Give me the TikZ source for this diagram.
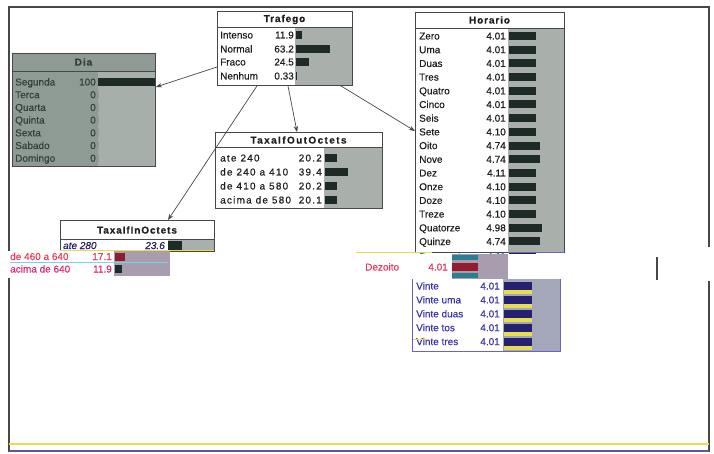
\documentclass[tikz,border=0pt]{standalone}
\usepackage{fontspec}
\setmainfont{Liberation Sans}
\newfontfamily\scanfont{Liberation Sans}[FakeBold=0.35]
\usetikzlibrary{arrows.meta,calc}
\definecolor{barea}{HTML}{A9B0AC}
\definecolor{bdark}{HTML}{1E2A26}
\definecolor{diafill}{HTML}{8D9B94}
\definecolor{diabar}{HTML}{A6AFAA}
\definecolor{diatxt}{HTML}{33403A}
\definecolor{ink}{HTML}{1E1E1E}
\definecolor{boxline}{HTML}{484848}
\definecolor{redtxt}{HTML}{E8385A}
\definecolor{magtxt}{HTML}{E0286E}
\definecolor{bluetxt}{HTML}{3A34A8}
\definecolor{navybar}{HTML}{252070}
\definecolor{streakyel}{HTML}{E6DE50}
\definecolor{cyanstreak}{HTML}{70D8E0}
\definecolor{purparea}{HTML}{A89CAE}
\definecolor{bluearea}{HTML}{A4A6BA}
\definecolor{bluebox}{HTML}{6A60D0}
\definecolor{darkred}{HTML}{8A1F30}
\definecolor{tealbar}{HTML}{2A7F92}
\newcount\nrc
\newcommand\bnrow[9]{%
  \global\advance\nrc by 1
  \node[rowtxt,anchor=base west,#8] (lab\the\nrc) at (#1,#4+3.5) {#5};
  \node[rowtxt,anchor=base east,#8] (val\the\nrc) at (#2,#4+3.5) {#6};
  \fill[#9] (#3,#4-4) rectangle +(#7,8);
}
\tikzset{
  box/.style={draw=boxline,line width=0.9pt,inner sep=0pt,anchor=north west},
  ttl/.style={font=\scanfont\fontsize{10}{11}\selectfont\bfseries\addfontfeatures{LetterSpace=9},text=ink,inner sep=0pt},
  rowtxt/.style={font=\scanfont\fontsize{10}{11}\selectfont,text=ink,inner sep=0pt},
  widetxt/.style={font=\scanfont\fontsize{10}{11}\selectfont\addfontfeatures{LetterSpace=12}},
  conn/.style={-{Stealth[length=6pt,width=4.5pt]},draw=boxline,line width=0.7pt},
  frame/.style={draw=boxline,line width=1.1pt}
}
\begin{document}
\begin{tikzpicture}[x=1pt,y=-1pt]
\useasboundingbox (0,0) rectangle (714,454);
\fill[white] (0,0) rectangle (714,454);
% outer frame
\draw[frame] (9,452) -- (9,7) -- (709,7) -- (709,247);
\draw[frame] (709,281) -- (709,452);
\draw[frame] (657,257) -- (657,280);
\draw[streakyel,line width=1.6pt] (9,444) -- (709,444);
\draw[draw=gray!70!blue,line width=1.2pt] (9,451) -- (709,451);

% ---------- Trafego ----------
\fill[white] (217,11) rectangle (352,85);
\fill[barea] (295,27) rectangle (352,85);
\draw[boxline,line width=0.8pt] (217,27) -- (352,27);
\node[ttl] (ttraf) at (284.5,19.5) {Trafego};
\foreach \lab/\val/\len/\yy in {Intenso/11.9/6.3/35, Normal/63.2/33.5/49, Fraco/24.5/13/62, Nenhum/0.33/0.3/76}{
  \bnrow{220}{294}{296}{\yy}{\lab}{\val}{\len}{}{bdark}
}
\node[box,minimum width=135pt,minimum height=74pt] (traf) at (217,11) {};

% ---------- Dia ----------
\fill[diafill] (12,53) rectangle (155,166);
\fill[diabar] (98,71) rectangle (155,166);
\draw[boxline,line width=0.8pt] (12,71) -- (155,71);
\node[ttl,text=diatxt] (tdia) at (83.5,62) {Dia};
\foreach \lab/\val/\len [count=\i from 0] in {Segunda/100/57, Terca/0/0, Quarta/0/0, Quinta/0/0, Sexta/0/0, Sabado/0/0, Domingo/0/0}{
  \bnrow{15}{96}{98}{82+12.7*\i}{\lab}{\val}{\len}{text=diatxt}{bdark}
}
\node[box,minimum width=143pt,minimum height=113pt] (dia) at (12,53) {};

% ---------- TaxaIfOutOctets ----------
\fill[white] (215,132) rectangle (382,208);
\fill[barea] (324,147) rectangle (382,208);
\draw[boxline,line width=0.8pt] (215,147) -- (382,147);
\node[ttl,font=\scanfont\fontsize{10}{11}\selectfont\bfseries\addfontfeatures{LetterSpace=14}] (ttout) at (298.5,140) {TaxaIfOutOctets};
\foreach \lab/\val/\len/\yy in {ate  240/20.2/11.5/158, de 240 a 410/39.4/22.5/172, de 410 a 580/20.2/11.5/186, acima de 580/20.1/11.5/200}{
  \bnrow{220}{322}{325}{\yy}{\lab}{\val}{\len}{widetxt}{bdark}
}
\node[box,minimum width=167pt,minimum height=76pt] (taxout) at (215,132) {};

% ---------- TaxaIfInOctets ----------
\fill[white] (60,220) rectangle (214,251);
\fill[barea] (168,239) rectangle (214,251);
\draw[boxline,line width=0.8pt] (60,239) -- (214,239);
\node[ttl] (ttin) at (137,230) {TaxaIfInOctets};
\bnrow{63}{165}{168}{245.5}{ate 280}{23.6}{13.5}{text=bluetxt!60!black,font=\scanfont\fontsize{10}{11}\selectfont\itshape}{bdark}
\node[box,minimum width=154pt,minimum height=31pt] (taxin) at (60,220) {};
% shifted (scan-displaced) rows
\fill[white] (8,250.5) rectangle (170,278);
\fill[purparea] (114,251) rectangle (170,276);
\draw[streakyel,line width=1pt] (60,250.5) -- (214,250.5);
\draw[cyanstreak,line width=1pt] (10,262.5) -- (168,262.5);
\bnrow{10}{112}{115}{256.5}{de  460 a 640}{17.1}{9.7}{text=redtxt}{darkred}
\bnrow{10}{112}{115}{269}{acima de 640}{11.9}{6.8}{text=magtxt}{bdark}
\node[inner sep=0pt,minimum width=162pt,minimum height=27pt,anchor=north west] (taxinshift) at (8,251) {};

% ---------- Horario (upper part) ----------
\fill[white] (415,12) rectangle (564,252);
\fill[barea] (508,28) rectangle (564,252);
\draw[boxline,line width=0.8pt] (415,28) -- (564,28);
\node[ttl] (thor) at (489.5,20) {Horario};
\foreach \lab/\val/\len [count=\i from 0] in {Zero/4.01/26.5, Uma/4.01/26.5, Duas/4.01/26.5, Tres/4.01/26.5, Quatro/4.01/26.5, Cinco/4.01/26.5, Seis/4.01/26.5, Sete/4.10/27, Oito/4.74/31.3, Nove/4.74/31.3, Dez/4.11/27.1, Onze/4.10/27, Doze/4.10/27, Treze/4.10/27, Quatorze/4.98/32.9, Quinze/4.74/31.3}{
  \bnrow{419}{506}{509}{36+13.7*\i}{\lab}{\val}{\len}{}{bdark}
}
\begin{scope}
  \clip (412,248) rectangle (564,253.5);
  \bnrow{419}{506}{509}{256.5}{Dezesseis}{4.11}{27.1}{text=bluetxt!70!cyan}{bdark}
\end{scope}
\node[box,minimum width=149pt,minimum height=240pt] (hor) at (415,12) {};
\draw[streakyel,line width=1.2pt] (356,252.5) -- (432,252.5);
\draw[bluebox,line width=1.2pt] (508,252.5) -- (564,252.5);

% ---------- Horario (shifted row) ----------
\fill[white] (360,254) rectangle (508,279);
\fill[purparea] (452,254) rectangle (508,279);
\fill[tealbar] (452,255) rectangle +(26,5);
\fill[darkred!90!red] (452,263) rectangle +(26,8);
\fill[tealbar] (452,273) rectangle +(26,5);
\bnrow{365}{448}{452}{267}{Dezoito}{4.01}{0}{text=redtxt}{darkred}
\node[inner sep=0pt,minimum width=148pt,minimum height=25pt,anchor=north west] (horshift) at (360,254) {};

% ---------- Horario (lower part) ----------
\fill[white] (412,279) rectangle (560,351);
\fill[bluearea] (503,279) rectangle (560,351);
\foreach \lab [count=\i from 0] in {Vinte, Vinte uma, Vinte duas, Vinte tos, Vinte tres}{
  \fill[streakyel] (504,286+13.9*\i+4) rectangle +(28,4);
  \bnrow{416}{500}{504}{286+13.9*\i}{\lab}{4.01}{28}{text=bluetxt}{navybar}
}
\draw[streakyel,line width=1pt] (412,339) -- (428,339);
\draw[bluebox,line width=0.9pt] (412,279) -- (412,351) -- (560,351) -- (560,279);
\node[inner sep=0pt,minimum width=148pt,minimum height=72pt,anchor=north west] (horlow) at (412,279) {};

% ---------- connectors ----------
\draw[conn] ($(traf.north west)+(0,56)$) -- ($(dia.north east)+(0,34)$);
\draw[conn] ($(traf.south west)+(40,0)$) -- ($(taxin.north west)+(108,0)$);
\draw[conn] ($(traf.south west)+(71,0)$) -- ($(taxout.north west)+(82,0)$);
\draw[conn] ($(traf.south east)+(-12,0)$) -- ($(hor.north west)+(0,119)$);
\end{tikzpicture}
\end{document}
